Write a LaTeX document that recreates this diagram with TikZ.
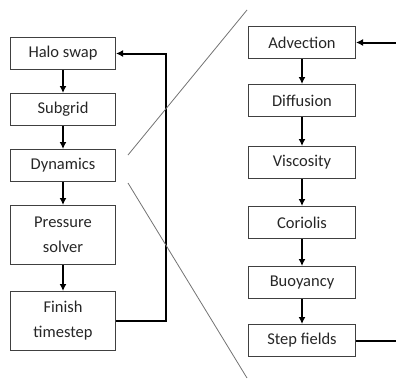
\documentclass[tikz,border=0pt]{standalone}
\usepackage{fontspec}
\setmainfont{Carlito}
\usetikzlibrary{positioning, arrows.meta}

\begin{document}
\begin{tikzpicture}[
        x=1pt, y=-1pt, font=\fontsize{16.5}{25}\selectfont, node distance=23pt,
        box/.style={draw=black!75, line width=1pt, text=black!85, minimum width=105pt, minimum height=32pt, align=center, inner sep=2pt},
        tall/.style={box, minimum height=59pt},
        rbox/.style={box, minimum width=107pt},
        arr/.style={-{Latex[length=7pt, width=7pt]}, line width=2pt},
        zoomline/.style={black!55, line width=0.8pt}
    ]
        \useasboundingbox (0,0) rectangle (396,380);

        % main loop
        \node[box, anchor=north west] (halo) at (10,37) {Halo swap};
        \node[box, below=of halo]           (subgrid) {Subgrid};
        \node[box, below=of subgrid]        (dyn)     {Dynamics};
        \node[tall, below=of dyn]           (press)   {Pressure\\solver};
        \node[tall, below=26pt of press]    (finish)  {Finish\\timestep};

        \draw[arr] (halo)    -- (subgrid);
        \draw[arr] (subgrid) -- (dyn);
        \draw[arr] (dyn)     -- (press);
        \draw[arr] (press)   -- (finish);
        \draw[arr] (finish.east) -- ++(50,0) |- (halo.east);

        % dynamics steps
        \node[rbox, anchor=north west] (adv) at (248,26) {Advection};
        \node[rbox, below=25pt of adv]  (diff)  {Diffusion};
        \node[rbox, below=29pt of diff] (visc)  {Viscosity};
        \node[rbox, below=27pt of visc] (cor)   {Coriolis};
        \node[rbox, below=27pt of cor]  (buoy)  {Buoyancy};
        \node[rbox, below=25pt of buoy] (step)  {Step fields};

        \draw[arr] (adv)  -- (diff);
        \draw[arr] (diff) -- (visc);
        \draw[arr] (visc) -- (cor);
        \draw[arr] (cor)  -- (buoy);
        \draw[arr] (buoy) -- (step);

        \coordinate[right=41pt of adv.east]  (inR);
        \coordinate[right=41pt of step.east] (outR);
        \draw[arr] (inR) -- (adv.east);
        \draw[line width=2pt] (step.east) -- (outR);

        % zoom lines
        \coordinate (zA) at (128,155);
        \coordinate (zB) at (247,10);
        \coordinate (zC) at (128,183);
        \coordinate (zD) at (247,378);
        \draw[zoomline] (zA) -- (zB);
        \draw[zoomline] (zC) -- (zD);
    \end{tikzpicture}
\end{document}
